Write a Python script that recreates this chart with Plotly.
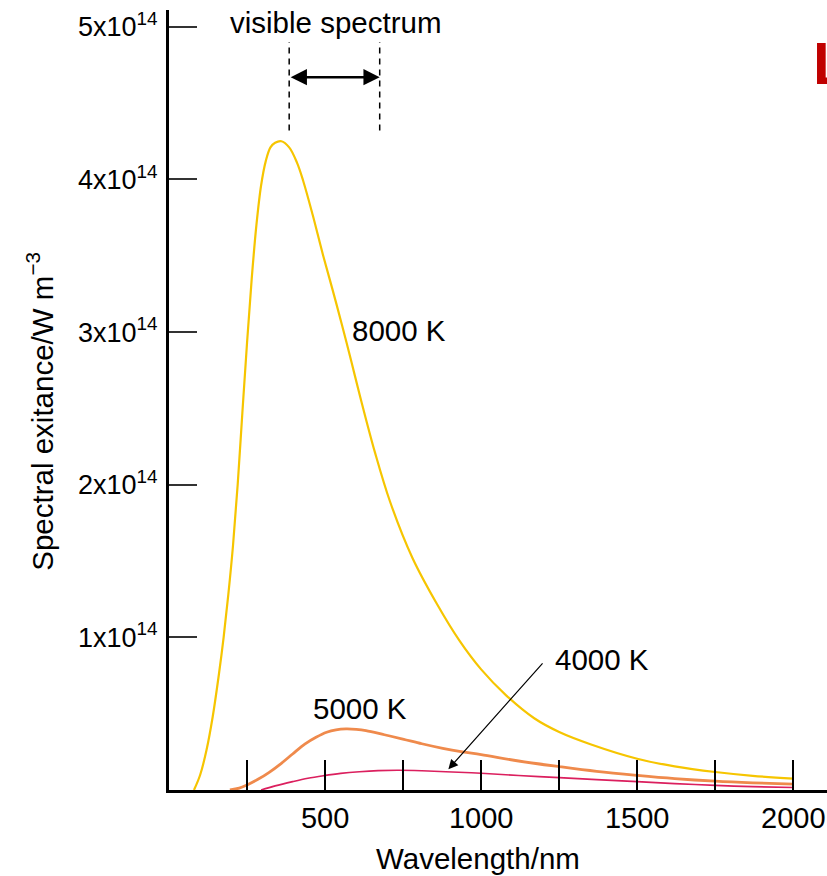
import plotly.graph_objects as go

# ---- data ----
# wavelengths in nm, spectral exitance in units of 1e14 W m^-3
wl_8000 = [80, 100, 120, 140, 160, 175, 190, 205, 220, 235, 250, 265, 280, 295, 310, 325,
           340, 360, 385, 410, 430, 460, 494, 525, 555, 585, 612, 660, 708, 780, 858, 930,
           1000, 1080, 1170, 1250, 1350, 1500, 1620, 1750, 1870, 2000]
ex_8000 = [0.0, 0.10, 0.26, 0.48, 0.76, 1.0, 1.28, 1.6, 2.0, 2.47, 2.93, 3.35, 3.7, 3.96,
           4.12, 4.21, 4.24, 4.25, 4.21, 4.11, 3.99, 3.77, 3.50, 3.27, 3.04, 2.80, 2.58,
           2.21, 1.89, 1.52, 1.22, 0.98, 0.79, 0.62, 0.47, 0.38, 0.30, 0.205, 0.155, 0.118,
           0.093, 0.075]

wl_5000 = [195, 225, 250, 285, 321, 360, 396, 435, 471, 505, 535, 567, 600, 631, 690, 749,
           810, 877, 940, 1000, 1120, 1250, 1370, 1500, 1620, 1750, 1870, 2000]
ex_5000 = [0.0, 0.012, 0.033, 0.07, 0.116, 0.175, 0.236, 0.30, 0.345, 0.378, 0.394, 0.40,
           0.397, 0.389, 0.362, 0.334, 0.303, 0.273, 0.25, 0.232, 0.19, 0.153, 0.122, 0.096,
           0.075, 0.058, 0.047, 0.038]

wl_4000 = [295, 340, 396, 445, 496, 550, 610, 670, 738, 810, 887, 1000, 1120, 1250, 1370,
           1500, 1620, 1750, 1870, 2000]
ex_4000 = [0.0, 0.027, 0.055, 0.077, 0.094, 0.109, 0.12, 0.127, 0.129, 0.126, 0.12, 0.11,
           0.095, 0.081, 0.068, 0.055, 0.042, 0.03, 0.022, 0.016]

x_tickvals = [250, 500, 750, 1000, 1250, 1500, 1750, 2000]
x_ticktext = ["", "500", "", "1000", "", "1500", "", "2000"]
y_tickvals = [1, 2, 3, 4, 5]
y_ticktext = ["1x10<sup>14</sup>", "2x10<sup>14</sup>", "3x10<sup>14</sup>",
              "4x10<sup>14</sup>", "5x10<sup>14</sup>"]

visible_range = [385, 675]

FONT = "Liberation Sans, Arial, Helvetica, sans-serif"
FS = 29.5

fig = go.Figure()
fig.add_trace(go.Scatter(x=wl_8000, y=ex_8000, mode="lines", name="8000 K",
                         line=dict(color="#F6C500", width=2.2, shape="spline", smoothing=1.0)))
fig.add_trace(go.Scatter(x=wl_5000, y=ex_5000, mode="lines", name="5000 K",
                         line=dict(color="#EF8A4C", width=2.8, shape="spline", smoothing=1.0)))
fig.add_trace(go.Scatter(x=wl_4000, y=ex_4000, mode="lines", name="4000 K",
                         line=dict(color="#DB1F5E", width=1.6, shape="spline", smoothing=1.0)))

# visible spectrum dashed markers
for xv in visible_range:
    fig.add_shape(type="line", xref="x", yref="y", x0=xv, x1=xv, y0=4.32, y1=4.90,
                  line=dict(color="black", width=1.5, dash="6px,5px"))

annotations = [
    dict(x=visible_range[1], y=4.67, ax=visible_range[0], ay=4.67, xref="x", yref="y",
         axref="x", ayref="y", text="", showarrow=True, arrowside="end+start",
         arrowhead=2, arrowsize=1.3, arrowwidth=2.5, arrowcolor="black"),
    dict(x=532, y=5.03, xref="x", yref="y", text="visible spectrum", showarrow=False,
         xanchor="center", font=dict(family=FONT, size=FS, color="black")),
    dict(x=580, y=3.01, xref="x", yref="y", text="8000 K", showarrow=False,
         xanchor="left", font=dict(family=FONT, size=FS, color="black")),
    dict(x=613, y=0.537, xref="x", yref="y", text="5000 K", showarrow=False,
         xanchor="center", font=dict(family=FONT, size=FS, color="black")),
    dict(x=1230, y=0.852, xref="x", yref="y", text="4000 K", showarrow=False,
         xanchor="left", font=dict(family=FONT, size=FS, color="black")),
    dict(x=895, y=0.136, ax=1201, ay=0.84, xref="x", yref="y", axref="x", ayref="y",
         text="", showarrow=True, arrowhead=2, arrowsize=1.6, arrowwidth=1.2,
         arrowcolor="black"),
    dict(x=990, y=-0.0872, xref="x", yref="paper", text="Wavelength/nm", showarrow=False,
         xanchor="center", yanchor="middle", font=dict(family=FONT, size=FS, color="black")),
    dict(x=-0.196, y=0.485, xref="paper", yref="paper",
         text="Spectral exitance/W m<sup>\u22123</sup>", showarrow=False, textangle=-90,
         xanchor="center", yanchor="middle",
         font=dict(family=FONT, size=FS, color="black")),
    dict(x=0.975, y=0.931, xref="paper", yref="paper", text="<b>L</b>", showarrow=False,
         xanchor="left", yanchor="middle", font=dict(family=FONT, size=60, color="#C00000")),
]

fig.update_layout(
    width=827, height=876,
    margin=dict(l=169, r=0, t=10, b=86),
    paper_bgcolor="white", plot_bgcolor="white",
    showlegend=False,
    font=dict(family=FONT, size=FS, color="black"),
    annotations=annotations,
    xaxis=dict(range=[0, 2108], tickvals=x_tickvals, ticktext=x_ticktext,
               ticks="inside", ticklen=30, tickwidth=1.5, tickcolor="black",
               showline=True, linewidth=3, linecolor="black", showgrid=False,
               zeroline=False, tickfont=dict(family=FONT, size=29, color="black")),
    yaxis=dict(range=[0, 5.11], tickvals=y_tickvals, ticktext=y_ticktext,
               ticks="inside", ticklen=28, tickwidth=1.5, tickcolor="#333333",
               showline=True, linewidth=3, linecolor="black", showgrid=False,
               zeroline=False, ticklabelstandoff=3,
               tickfont=dict(family=FONT, size=27, color="black")),
)

fig.write_html("out.html", config={"displayModeBar": False},
               post_script="document.body.style.margin='0';")
